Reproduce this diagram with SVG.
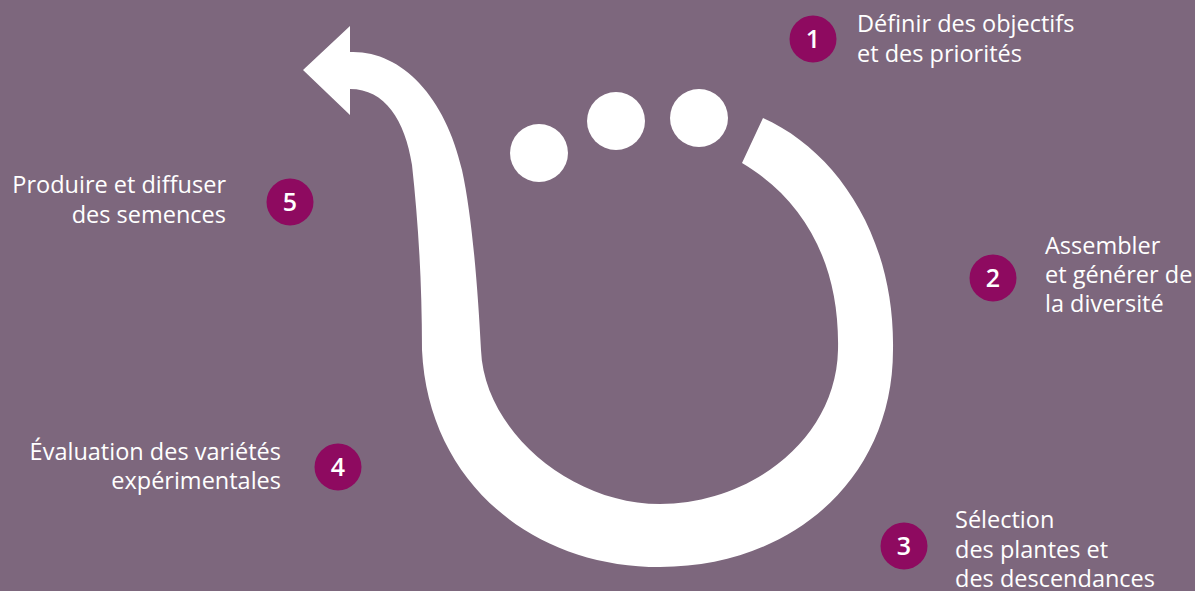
<svg xmlns="http://www.w3.org/2000/svg" width="1195" height="591" viewBox="0 0 1195 591">
<style>
.lbl{font-family:"Open Sans","Liberation Sans",sans-serif;font-size:23.5px;fill:#ffffff}
.num{font-family:"Open Sans","Liberation Sans",sans-serif;font-size:25px;font-weight:600;fill:#ffffff;text-anchor:middle}
.badge{fill:#8e0a60}
.dot{fill:#ffffff}
.r{text-anchor:end}
</style>
<rect width="1195" height="591" fill="#7d677d"/>
<g id="connectors">
<path fill="#ffffff" d="M303,70 L350,26 L350,52 C400,50 445,95 462,170 C472,215 478,290 481,350 C484,430 570,504 660,504 C750,504 836,440 838,350 C840,265 805,200 742,163 L763,118 C835,150 895,235 893,350 C893,480 790,567 660,567 C530,567 428,480 422,350 C422,280 418,220 412,165 C405,120 385,89 350,89 L350,115 Z"/>
</g>
<g id="dots">
<circle class="dot" cx="539" cy="153" r="29"/>
<circle class="dot" cx="616" cy="121" r="29"/>
<circle class="dot" cx="699" cy="118" r="29"/>
</g>
<g id="step1">
<circle class="badge" cx="813" cy="39" r="23.5"/>
<text class="num" x="813" y="48">1</text>
<text class="lbl" x="857" y="32">Définir des objectifs</text>
<text class="lbl" x="857" y="62">et des priorités</text>
</g>
<g id="step2">
<circle class="badge" cx="993" cy="278" r="23.5"/>
<text class="num" x="993" y="287">2</text>
<text class="lbl" x="1045" y="254">Assembler</text>
<text class="lbl" x="1045" y="283">et générer de</text>
<text class="lbl" x="1045" y="312">la diversité</text>
</g>
<g id="step3">
<circle class="badge" cx="904" cy="546" r="23.5"/>
<text class="num" x="904" y="555">3</text>
<text class="lbl" x="955" y="528">Sélection</text>
<text class="lbl" x="955" y="558">des plantes et</text>
<text class="lbl" x="955" y="587">des descendances</text>
</g>
<g id="step4">
<circle class="badge" cx="338" cy="467" r="23.5"/>
<text class="num" x="338" y="476">4</text>
<text class="lbl r" x="281" y="460">Évaluation des variétés</text>
<text class="lbl r" x="281" y="489">expérimentales</text>
</g>
<g id="step5">
<circle class="badge" cx="290" cy="202" r="23.5"/>
<text class="num" x="290" y="211">5</text>
<text class="lbl r" x="226" y="193">Produire et diffuser</text>
<text class="lbl r" x="226" y="223">des semences</text>
</g>
</svg>
